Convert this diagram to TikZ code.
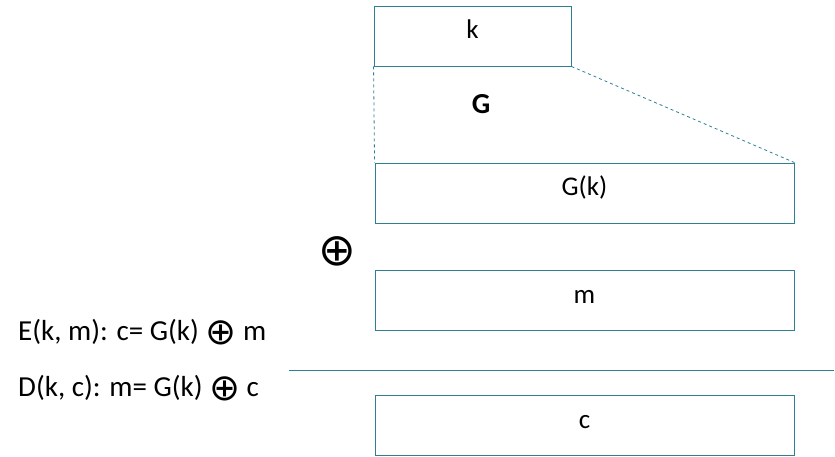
\documentclass[tikz,border=0pt]{standalone}
\usepackage{fontspec}
\setmainfont{Carlito}
\newfontfamily\symfont{DejaVu Sans}
\definecolor{boxline}{HTML}{2F7F93}
\tikzset{
	box/.style={draw=boxline,line width=0.9pt,minimum height=60pt,inner sep=0pt,text height=12pt,text depth=6pt,font=\fontsize{27}{30}\selectfont},
	formula/.style={anchor=base west,inner sep=0pt,font=\fontsize{29}{34}\selectfont}
}
\newcommand{\xorsym}[2]{\raisebox{#2}{\fontsize{#1}{#1}\symfont ⊕}}
\begin{document}
\begin{tikzpicture}[x=1pt,y=-1pt]

	\useasboundingbox (0,0) rectangle (835,457);

	\def\wide{419}
	\def\mid{584.5}

	% key and its expansion
	\node[box,minimum width=197pt] (key) at (472.5,36) {k};
	\node[box,minimum width=\wide pt] (gk) at (\mid,193) {G(k)};
	\node[font=\fontsize{29}{32}\selectfont\bfseries] (gen) at (481,104) {G};

	\draw[boxline,dashed,line width=0.8pt] (key.south west) -- (gk.north west);
	\draw[boxline,dashed,line width=0.8pt] (key.south east) -- (gk.north east);

	% xor, message and cipher text
	\node[inner sep=0pt] (xor) at (337,251) {\xorsym{45}{0pt}};
	\node[box,minimum width=\wide pt] (msg) at (\mid,300) {m};

	\coordinate (barL) at (289,370);
	\coordinate (barR) at (834,370);
	\draw[boxline,line width=0.9pt] (barL) -- (barR);

	\node[box,minimum width=\wide pt] (ctext) at (\mid,425) {c};

	% the two rules
	\node[formula] (enc) at (18,340) {E(k, m): c= G(k) \xorsym{37}{-4pt} m};
	\node[formula] (dec) at (18,396) {D(k, c): m= G(k) \xorsym{37}{-4pt} c};

\end{tikzpicture}
\end{document}
